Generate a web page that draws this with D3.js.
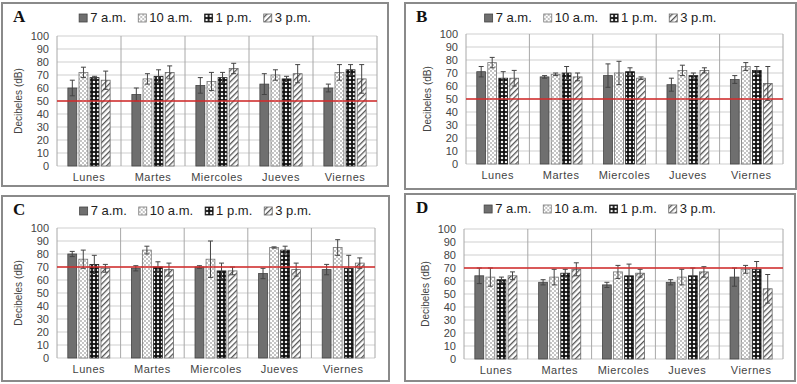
<!DOCTYPE html>
<html>
<head>
<meta charset="utf-8">
<script src="https://cdn.jsdelivr.net/npm/d3@7"></script>
<style>
  body { margin: 0; background: #fff; }
  svg { display: block; font-family: "Liberation Sans", Arial, sans-serif; }
</style>
</head>
<body>
<svg width="797" height="384"></svg>
<script>
// days on the x axis and the four measuring times
var days = ["Lunes", "Martes", "Miercoles", "Jueves", "Viernes"];
var times = ["7 a.m.", "10 a.m.", "1 p.m.", "3 p.m."];
var panelNames = ["A", "B", "C", "D"];
var yTicks = [0, 10, 20, 30, 40, 50, 60, 70, 80, 90, 100];

// noise limit (red line) for each panel
var limits = [50, 50, 70, 70];

// mean decibels, one row per day, one value per time
var meansA = [[60, 72, 68, 66], [55, 67, 69, 72], [62, 65, 68, 75], [63, 70, 67, 71], [60, 72, 74, 67]];
var meansB = [[71, 78, 66, 66], [67, 69, 70, 67], [68, 70, 71, 66], [61, 72, 68, 72], [65, 75, 72, 62]];
var meansC = [[80, 76, 72, 69], [69, 83, 70, 68], [70, 76, 67, 67], [65, 85, 83, 68], [68, 85, 69, 73]];
var meansD = [[64, 63, 61, 64], [59, 63, 66, 69], [57, 67, 64, 66], [59, 63, 64, 67], [63, 69, 69, 54]];

// error bar half widths
var errA = [[6, 4, 1, 7], [5, 4, 5, 5], [6, 7, 4, 4], [8, 4, 2, 7], [3, 6, 4, 11]];
var errB = [[4, 4, 5, 6], [1, 1, 5, 3], [9, 9, 3, 1], [5, 4, 2, 2], [3, 3, 3, 13]];
var errC = [[2, 7, 7, 3], [2, 3, 4, 5], [1, 14, 6, 3], [4, 0.5, 3, 5], [4, 6, 10, 4]];
var errD = [[6, 7, 2, 3], [2, 6, 3, 5], [2, 5, 9, 3], [2, 6, 6, 4], [7, 3, 6, 11]];

var allMeans = [meansA, meansB, meansC, meansD];
var allErrs = [errA, errB, errC, errD];

// where each panel sits: frame box and plot area
var layout = [
  {box: [2, 3, 388, 186], plot: [57, 36, 377, 166]},
  {box: [405, 3, 796, 189], plot: [466, 34, 783, 164]},
  {box: [2, 196, 389, 381], plot: [57, 228, 375, 358]},
  {box: [405, 194, 795, 381], plot: [464, 229, 783, 359]}
];

var svg = d3.select("svg");

// fill patterns for the four series
var defs = svg.append("defs");

var p1 = defs.append("pattern").attr("id", "pat1")
  .attr("patternUnits", "userSpaceOnUse").attr("width", 4).attr("height", 4);
p1.append("rect").attr("width", 4).attr("height", 4).attr("fill", "#fff");
p1.append("circle").attr("cx", 1).attr("cy", 1).attr("r", 0.9).attr("fill", "#aaa");
p1.append("circle").attr("cx", 3).attr("cy", 3).attr("r", 0.9).attr("fill", "#aaa");

var p2 = defs.append("pattern").attr("id", "pat2")
  .attr("patternUnits", "userSpaceOnUse").attr("width", 4).attr("height", 4);
p2.append("rect").attr("width", 4).attr("height", 4).attr("fill", "#111");
p2.append("circle").attr("cx", 2).attr("cy", 2).attr("r", 1.25).attr("fill", "#f2f2f2");

var p3 = defs.append("pattern").attr("id", "pat3")
  .attr("patternUnits", "userSpaceOnUse").attr("width", 4).attr("height", 4)
  .attr("patternTransform", "rotate(45)");
p3.append("rect").attr("width", 4).attr("height", 4).attr("fill", "#fff");
p3.append("rect").attr("width", 1.3).attr("height", 4).attr("fill", "#555");

var fills = ["#6f6f6f", "url(#pat1)", "url(#pat2)", "url(#pat3)"];
var strokes = ["#444", "#777", "#222", "#666"];

layout.forEach(function(L, pi) {
  var g = svg.append("g");
  var b = L.box, p = L.plot;

  // outer frame
  g.append("rect")
    .attr("x", b[0]).attr("y", b[1])
    .attr("width", b[2] - b[0]).attr("height", b[3] - b[1])
    .attr("fill", "#fff").attr("stroke", "#8a8a8a").attr("stroke-width", 2);

  var y = d3.scaleLinear().domain([0, 100]).range([p[3], p[1]]);
  var x = d3.scaleBand().domain(days).range([p[0], p[2]]);
  var bw = x.bandwidth();
  var inner = d3.scaleBand().domain(times)
    .range([bw * 0.17, bw * 0.83]).paddingInner(0.2);

  // horizontal gridlines
  g.selectAll("line.grid").data(yTicks).enter().append("line")
    .attr("x1", p[0]).attr("x2", p[2])
    .attr("y1", function(d) { return y(d); })
    .attr("y2", function(d) { return y(d); })
    .attr("stroke", "#cfcfcf").attr("stroke-width", 1);

  // vertical separators between days
  var seps = days.map(function(d) { return x(d); }).concat([p[2]]);
  g.selectAll("line.sep").data(seps).enter().append("line")
    .attr("x1", function(d) { return d; }).attr("x2", function(d) { return d; })
    .attr("y1", p[1]).attr("y2", p[3])
    .attr("stroke", "#a8a8a8").attr("stroke-width", 1);

  // y tick labels
  g.selectAll("text.yt").data(yTicks).enter().append("text")
    .attr("x", p[0] - 8)
    .attr("y", function(d) { return y(d) + 4; })
    .attr("text-anchor", "end")
    .attr("font-size", 11).attr("fill", "#444")
    .text(function(d) { return d; });

  // day labels
  g.selectAll("text.xt").data(days).enter().append("text")
    .attr("x", function(d) { return x(d) + bw / 2; })
    .attr("y", p[3] + 15)
    .attr("text-anchor", "middle")
    .attr("font-size", 11).attr("fill", "#444").attr("letter-spacing", 0.5)
    .text(function(d) { return d; });

  // y axis title
  var my = (p[1] + p[3]) / 2;
  g.append("text")
    .attr("transform", "translate(" + (p[0] - 35) + "," + my + ") rotate(-90)")
    .attr("text-anchor", "middle")
    .attr("font-size", 10).attr("fill", "#444")
    .text("Decibeles (dB)");

  // bars and error bars
  var rows = [];
  days.forEach(function(d, di) {
    times.forEach(function(t, ti) {
      rows.push({day: d, time: t, ti: ti,
        v: allMeans[pi][di][ti], e: allErrs[pi][di][ti]});
    });
  });

  g.selectAll("rect.bar").data(rows).enter().append("rect")
    .attr("x", function(d) { return x(d.day) + inner(d.time); })
    .attr("y", function(d) { return y(d.v); })
    .attr("width", inner.bandwidth())
    .attr("height", function(d) { return y(0) - y(d.v); })
    .attr("fill", function(d) { return fills[d.ti]; })
    .attr("stroke", function(d) { return strokes[d.ti]; })
    .attr("stroke-width", 0.8);

  var eb = g.selectAll("g.err").data(rows).enter().append("g")
    .attr("stroke", "#444").attr("stroke-width", 1);
  eb.append("line")
    .attr("x1", function(d) { return x(d.day) + inner(d.time) + inner.bandwidth() / 2; })
    .attr("x2", function(d) { return x(d.day) + inner(d.time) + inner.bandwidth() / 2; })
    .attr("y1", function(d) { return y(d.v - d.e); })
    .attr("y2", function(d) { return y(d.v + d.e); });
  [1, -1].forEach(function(s) {
    eb.append("line")
      .attr("x1", function(d) { return x(d.day) + inner(d.time) + inner.bandwidth() / 2 - 2.5; })
      .attr("x2", function(d) { return x(d.day) + inner(d.time) + inner.bandwidth() / 2 + 2.5; })
      .attr("y1", function(d) { return y(d.v + s * d.e); })
      .attr("y2", function(d) { return y(d.v + s * d.e); });
  });

  // limit line
  g.append("line")
    .attr("x1", p[0]).attr("x2", p[2])
    .attr("y1", y(limits[pi])).attr("y2", y(limits[pi]))
    .attr("stroke", "#d42a2a").attr("stroke-width", 1.6);

  // panel letter
  g.append("text")
    .attr("x", b[0] + 11).attr("y", b[1] + 19)
    .attr("font-family", "'Liberation Serif', 'DejaVu Serif', serif")
    .attr("font-weight", "bold").attr("font-size", 17).attr("fill", "#111")
    .text(panelNames[pi]);

  // legend centred in the frame
  var leg = g.append("g");
  var lx = 0;
  times.forEach(function(t, ti) {
    var it = leg.append("g").attr("transform", "translate(" + lx + ",0)");
    it.append("rect").attr("x", 0).attr("y", -8).attr("width", 8).attr("height", 8)
      .attr("fill", fills[ti]).attr("stroke", strokes[ti]).attr("stroke-width", 0.8);
    var tx = it.append("text").attr("x", 11).attr("y", 0)
      .attr("font-size", 13).attr("fill", "#222").text(t);
    lx += 11 + tx.node().getComputedTextLength() + 12;
  });
  lx -= 12;
  var cx = (b[0] + b[2]) / 2;
  leg.attr("transform", "translate(" + (cx - lx / 2) + "," + (b[1] + 19) + ")");
});
</script>
</body>
</html>
